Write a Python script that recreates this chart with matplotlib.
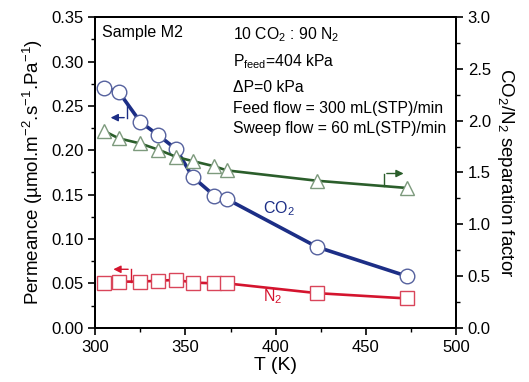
import matplotlib
matplotlib.use("Agg")
import matplotlib.pyplot as plt
from matplotlib.ticker import MultipleLocator

plt.rcParams['font.family'] = ['Liberation Sans', 'DejaVu Sans']
plt.rcParams['mathtext.fontset'] = 'custom'
plt.rcParams['mathtext.rm'] = 'Liberation Sans'
plt.rcParams['mathtext.it'] = 'Liberation Sans'

# temperatures (K)
T = [305, 313, 325, 335, 345, 354, 366, 373, 423, 473]
# permeance (umol m-2 s-1 Pa-1)
co2 = [0.270, 0.266, 0.232, 0.217, 0.201, 0.170, 0.149, 0.145, 0.091, 0.058]
n2 = [0.050, 0.052, 0.052, 0.053, 0.054, 0.051, 0.050, 0.050, 0.039, 0.033]
# CO2/N2 separation factor
sep = [1.90, 1.83, 1.78, 1.72, 1.65, 1.61, 1.56, 1.52, 1.42, 1.35]

blue = "#1c2e86"
red = "#d4142e"
green = "#2b5e2b"

fig, ax = plt.subplots(figsize=(5.29, 3.82), dpi=100)
fig.subplots_adjust(left=0.18, right=0.862, bottom=0.142, top=0.955)
ax2 = ax.twinx()

ax.plot(T, co2, color=blue, lw=2.6, marker="o", ms=10.5, mfc="white",
        mec="#55619e", mew=1.0, zorder=3)
ax.plot(T, n2, color=red, lw=1.9, marker="s", ms=10, mfc="white",
        mec="#d9455a", mew=1.0, zorder=3)
ax2.plot(T, sep, color=green, lw=1.9, marker="^", ms=10, mfc="white",
         mec="#7d9a7d", mew=1.0, zorder=3)

# bracket arrows pointing to axes
ax.plot([317.6, 317.6], [0.253, 0.2368], color=blue, lw=1)
ax.annotate("", xy=(307.0, 0.2368), xytext=(317.6, 0.2368),
            arrowprops=dict(arrowstyle="-|>", color=blue, lw=1, mutation_scale=11))
ax.plot([319.8, 319.8], [0.052, 0.0659], color=red, lw=1)
ax.annotate("", xy=(308.5, 0.0659), xytext=(319.8, 0.0659),
            arrowprops=dict(arrowstyle="-|>", color=red, lw=1, mutation_scale=11))
ax2.plot([460.1, 460.1], [1.37, 1.49], color=green, lw=1)
ax2.annotate("", xy=(472.5, 1.49), xytext=(460.1, 1.49),
             arrowprops=dict(arrowstyle="-|>", color=green, lw=1, mutation_scale=11))

ax.text(393, 0.129, "CO$_2$", color=blue, fontsize=11.5)
ax.text(393, 0.030, "N$_2$", color=red, fontsize=11.5)

ax.text(0.02, 0.975, "Sample M2", transform=ax.transAxes, fontsize=11.5, va="top")
x0 = 0.382
fs = 11.3
ax.text(x0, 0.945, "10 CO$_2$ : 90 N$_2$", transform=ax.transAxes, fontsize=fs, va="center")
ax.text(x0, 0.858, "P$_{\\mathrm{feed}}$=404 kPa", transform=ax.transAxes, fontsize=fs, va="center")
ax.text(x0, 0.775, "\u0394P=0 kPa", transform=ax.transAxes, fontsize=fs, va="center")
ax.text(x0, 0.707, "Feed flow = 300 mL(STP)/min", transform=ax.transAxes, fontsize=fs, va="center")
ax.text(x0, 0.642, "Sweep flow = 60 mL(STP)/min", transform=ax.transAxes, fontsize=fs, va="center")

ax.set_xlim(300, 500)
ax.set_ylim(0, 0.35)
ax2.set_ylim(0, 3.0)
ax.xaxis.set_major_locator(MultipleLocator(50))
ax.xaxis.set_minor_locator(MultipleLocator(25))
ax.yaxis.set_major_locator(MultipleLocator(0.05))
ax.yaxis.set_minor_locator(MultipleLocator(0.025))
ax2.yaxis.set_major_locator(MultipleLocator(0.5))
ax2.yaxis.set_minor_locator(MultipleLocator(0.25))
ax.yaxis.set_major_formatter(plt.FormatStrFormatter("%.2f"))
ax2.yaxis.set_major_formatter(plt.FormatStrFormatter("%.1f"))

for a in (ax, ax2):
    a.tick_params(which="major", direction="out", length=5, width=1.2, labelsize=12)
    a.tick_params(which="minor", direction="out", length=3, width=1.0)
    for s in a.spines.values():
        s.set_linewidth(1.4)

ax.set_xlabel("T (K)", fontsize=14, labelpad=2)
ax.set_ylabel("Permeance (\u00b5mol.m$^{-2}$.s$^{-1}$.Pa$^{-1}$)", fontsize=13.5, labelpad=4)
ax2.set_ylabel("CO$_2$/N$_2$ separation factor", fontsize=13.5, rotation=270, labelpad=18)

fig.savefig("out.png", dpi=100)
